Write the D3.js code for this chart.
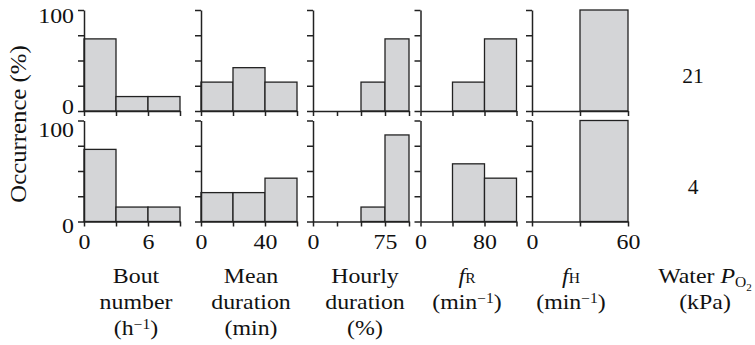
<!DOCTYPE html>
<html>
<head>
<meta charset="utf-8">
<script src="https://cdn.jsdelivr.net/npm/d3@7"></script>
<style>
  body { margin: 0; background: #fff; }
  svg { display: block; }
</style>
</head>
<body>
<div id="chart"></div>
<script>
const WIDTH = 755;
const HEIGHT = 345;

// water PO2 (kPa), one per row
const rowLabels = ['21', '4'];

// bin edges for each panel
const boutBins = [0, 3, 6, 9];
const meanBins = [0, 20, 40, 60];
const hourlyBins = [0, 25, 50, 75, 100];
const frBins = [0, 40, 80, 120];
const fhBins = [0, 30, 60];

// occurrence (%) per bin: [21 kPa row, 4 kPa row]
const boutValues = [[71.4, 14.3, 14.3], [71.4, 14.3, 14.3]];
const meanValues = [[28.6, 42.9, 28.6], [28.6, 28.6, 42.9]];
const hourlyValues = [[0, 0, 28.6, 71.4], [0, 0, 14.3, 85.7]];
const frValues = [[0, 28.6, 71.4], [0, 57.1, 42.9]];
const fhValues = [[0, 100], [0, 100]];

const xTickLabels = [[0, 6], [0, 40], [0, 75], [0, 80], [0, 60]];
const yTicks = [0, 25, 50, 75, 100];
const yTickLabels = [0, 100];

// titles: lines of [text, style] segments
const titles = [
  [[['Bout', '']], [['number', '']], [['(h', ''], ['\u22121', 'sup'], [')', '']]],
  [[['Mean', '']], [['duration', '']], [['(min)', '']]],
  [[['Hourly', '']], [['duration', '']], [['(%)', '']]],
  [[['f', 'i'], ['R', 'sm']], [['(min', ''], ['\u22121', 'sup'], [')', '']]],
  [[['f', 'i'], ['H', 'sm']], [['(min', ''], ['\u22121', 'sup'], [')', '']]],
];
const rowTitle = [[['Water ', ''], ['P', 'i'], ['O', 'sub'], ['2', 'sub2']], [['(kPa)', '']]];

const panelBins = [boutBins, meanBins, hourlyBins, frBins, fhBins];
const panelValues = [boutValues, meanValues, hourlyValues, frValues, fhValues];

const PANEL_LEFT = [84, 201, 313, 420.5, 532];
const PANEL_WIDTH = 96;
const ROW_TOP = [10, 120.5];
const ROW_HEIGHT = 101;
const TITLE_X = [136, 251, 365, 467, 571];
const FONT = 21.5;
const SX = 1.11; // the figure's type is a little wide
const SERIF = "'Liberation Serif', 'Times New Roman', Times, serif";

const BAR_FILL = '#d4d5d7';
const INK = '#222';

function translate(x, y) {
  return `translate(${x}, ${y})`;
}

const segStyle = {
  '': {size: FONT, shift: 0},
  'i': {size: FONT, shift: 0, italic: true},
  'sm': {size: 14, shift: 0},
  'sup': {size: 14, shift: -6},
  'sub': {size: 14, shift: 4},
  'sub2': {size: 10, shift: 8},
};

function richText(parent, x, y, lines, lineHeight) {
  const text = parent.append('text')
    .attr('transform', `${translate(x, y)} scale(${SX}, 1)`)
    .attr('text-anchor', 'middle')
    .attr('font-size', FONT)
    .attr('fill', '#111');

  lines.forEach((segs, li) => {
    const line = text.append('tspan')
      .attr('x', 0)
      .attr('y', li * lineHeight);
    let shift = 0;
    for (const [t, s] of segs) {
      const st = segStyle[s];
      line.append('tspan')
        .attr('dy', st.shift - shift)
        .attr('font-size', st.size)
        .attr('font-style', st.italic ? 'italic' : null)
        .text(t);
      shift = st.shift;
    }
  });
  return text;
}

const svg = d3.select('#chart').append('svg')
  .attr('width', WIDTH)
  .attr('height', HEIGHT)
  .attr('font-family', SERIF);

panelBins.forEach((bins, p) => {
  const x = d3.scaleLinear()
    .domain(d3.extent(bins))
    .range([PANEL_LEFT[p], PANEL_LEFT[p] + PANEL_WIDTH]);

  rowLabels.forEach((_, r) => {
    const y = d3.scaleLinear()
      .domain([0, 100])
      .range([ROW_TOP[r] + ROW_HEIGHT, ROW_TOP[r]]);

    const values = panelValues[p][r];
    const bars = values
      .map((v, i) => ({x0: bins[i], x1: bins[i + 1], v}))
      .filter(d => d.v > 0);

    svg.append('g').selectAll('rect')
      .data(bars)
      .join('rect')
      .attr('x', d => x(d.x0))
      .attr('width', d => x(d.x1) - x(d.x0))
      .attr('y', d => y(d.v))
      .attr('height', d => y(0) - y(d.v))
      .attr('fill', BAR_FILL)
      .attr('stroke', INK)
      .attr('stroke-width', 1.3);

    // y axis
    const yAxis = d3.axisLeft(y)
      .tickValues(yTicks)
      .tickSize(6)
      .tickSizeOuter(0)
      .tickFormat(d => (p === 0 && yTickLabels.includes(d)) ? d : '');

    const gy = svg.append('g')
      .attr('transform', translate(x.range()[0], 0))
      .call(yAxis)
      .attr('font-family', null)
      .attr('font-size', FONT);
    gy.select('.domain').attr('stroke', INK).attr('stroke-width', 1.5);
    gy.selectAll('.tick line').attr('stroke', INK).attr('stroke-width', 1.5);
    gy.selectAll('.tick text')
      .attr('fill', '#111')
      .attr('x', -10 / SX)
      .attr('transform', `scale(${SX}, 1)`)
      .attr('dy', d => d === 100 ? (r === 0 ? 12.7 : 15.5) : (r === 0 ? 2.3 : 11));

    // x axis
    const xAxis = d3.axisBottom(x)
      .tickValues(bins)
      .tickSize(5)
      .tickSizeOuter(0)
      .tickFormat(d => (r === 1 && xTickLabels[p].includes(d)) ? d : '');

    const gx = svg.append('g')
      .attr('transform', translate(0, y(0)))
      .call(xAxis)
      .attr('font-family', null)
      .attr('font-size', FONT);
    gx.select('.domain').attr('stroke', INK).attr('stroke-width', 1.5);
    gx.selectAll('.tick line').attr('stroke', INK).attr('stroke-width', 1.5);
    gx.selectAll('.tick text')
      .attr('fill', '#111')
      .attr('y', 0)
      .attr('dy', 28)
      .attr('transform', `scale(${SX}, 1)`);

    if (p === 0) {
      svg.append('text')
        .attr('x', 693)
        .attr('y', y(0) - 28)
        .attr('text-anchor', 'middle')
        .attr('font-size', FONT)
        .attr('fill', '#111')
        .text(rowLabels[r]);
    }
  });

  richText(svg, TITLE_X[p], 283, titles[p], 26);
});

richText(svg, 705, 283, rowTitle, 26);

svg.append('text')
  .attr('transform', `${translate(26, 124)} rotate(-90) scale(1.1, 1)`)
  .attr('text-anchor', 'middle')
  .attr('font-size', 22.5)
  .attr('fill', '#111')
  .text('Occurrence (%)');
</script>
</body>
</html>
